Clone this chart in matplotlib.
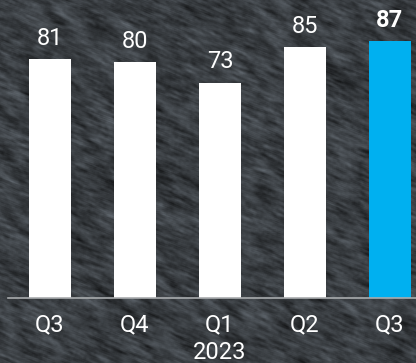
import numpy as np
import matplotlib
matplotlib.use("Agg")
import matplotlib.pyplot as plt

# data
quarters = ['Q3', 'Q4', 'Q1', 'Q2', 'Q3']
values = [81, 80, 73, 85, 87]
year_label = '2023'
year_idx = 2
bar_colors = ['white', 'white', 'white', 'white', '#00b0f0']

W, H = 416, 363
fig = plt.figure(figsize=(W / 100, H / 100), dpi=100)

# stone-like background texture (seeded noise, smeared diagonally)
bg = fig.add_axes([0, 0, 1, 1])
rng = np.random.default_rng(3)
noise = rng.normal(0, 1, (H, W))
blur = np.zeros_like(noise)
for i in range(-1, 2):
    for j in range(-1, 2):
        blur += np.roll(np.roll(noise, i, axis=0), j, axis=1)
tex = np.zeros_like(noise)
for k in range(-5, 6):
    tex += np.roll(np.roll(blur, k, axis=1), int(round(k * 0.4)), axis=0)
tex /= tex.std()
coarse = rng.normal(0, 1, (H // 10 + 2, W // 10 + 2))
coarse = np.kron(coarse, np.ones((10, 10)))[:H, :W]
sm = np.zeros_like(coarse)
for k in range(-10, 11):
    sm += np.roll(np.roll(coarse, k, axis=0), k, axis=1)
sm /= sm.std()
lum = 0.235 + 0.03 * tex + 0.025 * sm
img = np.stack([lum * 0.96, lum * 1.03, lum * 1.1], axis=-1).clip(0, 1)
bg.imshow(img, aspect='auto', interpolation='bilinear')
bg.axis('off')

ax = fig.add_axes([8 / W, 65 / H, 408 / W, 295 / H])
ax.patch.set_alpha(0)
x = np.arange(len(values))
ax.bar(x, values, width=0.494, color=bar_colors, zorder=2)
ax.set_xlim(-0.494, 4.306)
ax.set_ylim(0, 100)

for xi, v in zip(x, values):
    last = xi == len(values) - 1
    ax.text(xi, v + 3.2, str(v), ha='center', va='bottom', color='white',
            fontsize=17, family='Roboto',
            fontweight='bold' if last else 'normal', clip_on=False)

for s in ['top', 'right', 'left']:
    ax.spines[s].set_visible(False)
ax.spines['bottom'].set_color('#a9acae')
ax.spines['bottom'].set_linewidth(1.2)
ax.set_yticks([])
ax.set_xticks(x)
ax.set_xticklabels(quarters, color='white', fontsize=17, family='Roboto')
ax.tick_params(axis='x', length=0, pad=11)
ax.text(year_idx, -18.5, year_label, ha='center', va='center', color='white',
        fontsize=17, family='Roboto', clip_on=False)

fig.savefig('out.png', dpi=100)
